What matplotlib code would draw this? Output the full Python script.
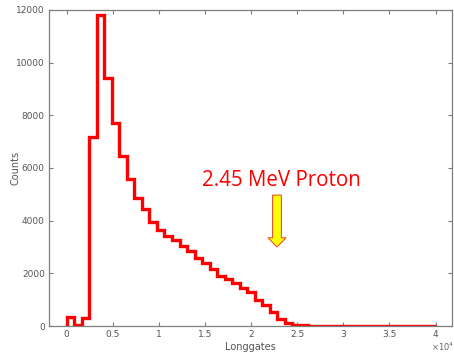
import numpy as np
import matplotlib
matplotlib.use("Agg")
import matplotlib.pyplot as plt
from matplotlib.patches import FancyArrow

# ── data: histogram counts per longgate bin (49 bins over 0..40000) ──────────
bin_lo, bin_hi, n_bins = 0, 40000, 49
counts = [350, 40, 290, 7180, 11800, 9400, 7720, 6450, 5600, 4850,
          4450, 3960, 3650, 3400, 3250, 3050, 2850, 2600, 2400, 2150,
          1900, 1800, 1620, 1440, 1300, 1000, 800, 550, 260, 110,
          45, 30, 20, 15, 12, 10, 8, 6, 5, 5,
          4, 3, 3, 2, 2, 2, 1, 1, 1]
xtick_vals = [0, 0.5, 1, 1.5, 2, 2.5, 3, 3.5, 4]
ytick_vals = [0, 2000, 4000, 6000, 8000, 10000, 12000]

edges = np.linspace(bin_lo, bin_hi, n_bins + 1)
centers = 0.5 * (edges[:-1] + edges[1:])

# ── figure ────────────────────────────────────────────────────────────────────
fig = plt.figure(figsize=(4.54, 3.54), dpi=100)
ax = fig.add_axes([0.108, 0.079, 0.888, 0.893])

ax.hist(centers, bins=edges, weights=counts, histtype="step",
        color="#ff0000", lw=2.4)

ax.set_xlim(-1900, 41800)
ax.set_ylim(0, 12000)
ax.set_xticks([v * 1e4 for v in xtick_vals])
ax.set_xticklabels([f"{v:g}" for v in xtick_vals])
ax.set_yticks(ytick_vals)
ax.set_yticklabels([str(v) for v in ytick_vals])

gray = "#7f7f7f"
for s in ax.spines.values():
    s.set_color(gray)
    s.set_linewidth(0.9)
ax.tick_params(direction="in", length=3, width=0.8, color=gray,
               labelcolor="#555555", labelsize=6.5, top=True, right=True,
               pad=3)

ax.set_xlabel("Longgates", fontsize=7, color="#555555", labelpad=2)
ax.set_ylabel("Counts", fontsize=7, color="#555555", labelpad=-3)
ax.text(1.006, -0.066, r"$\times10^4$", transform=ax.transAxes,
        fontsize=6, color="#666666", ha="right", va="center")

# annotation
ax.text(14700, 5330, "2.45 MeV Proton", color="#ff0000",
        fontsize=14.8, family="Open Sans", ha="left", va="baseline")
arrow = FancyArrow(22810, 4970, 0, -1970, width=960, head_width=1950,
                   head_length=350, length_includes_head=True,
                   facecolor="#ffff00", edgecolor="#e8562a", lw=0.8)
ax.add_patch(arrow)

fig.savefig("out.png", dpi=100)
plt.close(fig)
